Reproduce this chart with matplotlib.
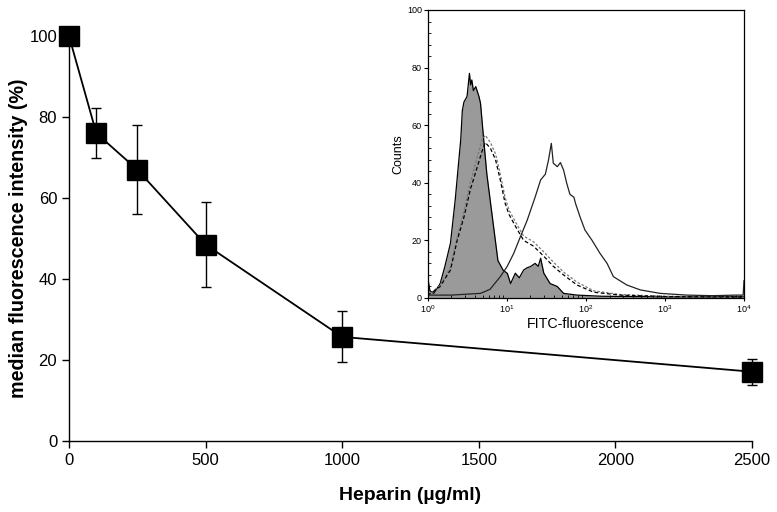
import numpy as np
import matplotlib
matplotlib.use("Agg")
import matplotlib.pyplot as plt

plt.rcParams['font.family'] = ['Liberation Sans', 'DejaVu Sans']
plt.rcParams['mathtext.fontset'] = 'custom'
plt.rcParams['mathtext.rm'] = 'Liberation Sans'
plt.rcParams['mathtext.it'] = 'Liberation Sans'

# ---- main chart data ----
heparin = [0, 100, 250, 500, 1000, 2500]
mfi = [100, 76, 67, 48.5, 25.7, 17.1]
mfi_err = [0, 6.1, 10.9, 10.6, 6.3, 3.2]
x_ticks = [0, 500, 1000, 1500, 2000, 2500]
y_ticks = [0, 20, 40, 60, 80, 100]

# ---- inset histogram data (log10 of FITC fluorescence, counts) ----
ctrl_logx = [0.0, 0.005, 0.01, 0.03, 0.08, 0.16, 0.22, 0.29, 0.35, 0.42, 0.44, 0.46, 0.50, 0.53, 0.545,
             0.56, 0.58, 0.61, 0.65, 0.67, 0.71, 0.75, 0.82, 0.89, 0.955, 1.01, 1.05, 1.11, 1.16,
             1.215, 1.26, 1.30, 1.36, 1.40, 1.43, 1.47, 1.55, 1.64, 1.72, 1.89, 2.2, 2.6, 3.0, 3.5, 4.0]
ctrl_counts = [27, 20, 6, 2.5, 1.6, 5, 11, 19, 34, 55, 65, 68, 70, 78, 74,
               75.7, 72, 73.4, 70, 67.6, 55, 43, 28, 13, 9.7, 8.5, 5, 8.6, 7,
               9.7, 10.5, 10.9, 12, 11, 13.8, 8.6, 5, 4, 1.6, 1, 0.6, 0.5, 0.4, 0.4, 0.5]

dash_logx = [0.0, 0.04, 0.16, 0.29, 0.375, 0.46, 0.54, 0.63, 0.69, 0.73, 0.795, 0.86, 0.92,
             0.98, 1.03, 1.13, 1.215, 1.34, 1.47, 1.59, 1.72, 1.89, 2.10, 2.435, 3.0, 4.0]
dash_counts = [1, 1.6, 4, 9.7, 20, 28, 37.5, 45.6, 51, 54, 52, 48, 41,
               33, 29, 24, 20, 18, 14.5, 11, 8, 4.5, 2, 1, 0.5, 0.3]
dot_counts = [1, 1.6, 4.5, 10.5, 21, 30, 40, 49, 55, 56.5, 54, 50, 43,
              35, 30.5, 25.5, 21.5, 19.5, 16, 12.5, 9, 5.5, 2.5, 1.2, 0.6, 0.3]

hep_logx = [0.0, 0.3, 0.67, 0.79, 0.92, 1.006, 1.09, 1.17, 1.26, 1.36, 1.43, 1.49, 1.53, 1.565,
            1.59, 1.64, 1.68, 1.72, 1.76, 1.80, 1.85, 1.87, 1.93, 1.99, 2.08, 2.18, 2.27, 2.35,
            2.52, 2.69, 2.94, 3.28, 3.6, 3.9, 3.99, 4.0]
hep_counts = [1, 1, 1.6, 3, 7.4, 10.9, 15.5, 21, 27, 35, 41, 43, 48, 53.7,
              46.8, 45.6, 47, 44.4, 39.8, 36, 35, 32.9, 28, 23.6, 20, 15.5, 12, 7.4,
              4.5, 2.8, 1.6, 1, 0.8, 1, 1, 6]

fig = plt.figure(figsize=(7.77, 5.12), dpi=100)
ax = fig.add_axes([0.0888, 0.1387, 0.879, 0.791])
ax.errorbar(heparin, mfi, yerr=mfi_err, color='black', lw=1.3, elinewidth=1.0,
            capsize=3.5, capthick=1.0, marker='s', markersize=14, markerfacecolor='black',
            markeredgecolor='black', clip_on=False, zorder=3)
ax.set_xlim(0, 2500)
ax.set_ylim(0, 100)
ax.set_xticks(x_ticks)
ax.set_yticks(y_ticks)
for s in ['top', 'right']:
    ax.spines[s].set_visible(False)
ax.spines['left'].set_linewidth(1.0)
ax.spines['bottom'].set_linewidth(1.0)
ax.tick_params(direction='out', length=5, width=1.0, labelsize=12)
ax.set_xlabel('Heparin (µg/ml)', fontsize=14, fontweight='bold', labelpad=14)
ax.set_ylabel('median fluorescence intensity (%)', fontsize=14.2, fontweight='bold', labelpad=1)

# ---- inset ----
ins = fig.add_axes([0.5502, 0.418, 0.4073, 0.5625])
ins.fill_between(10 ** np.array(ctrl_logx), ctrl_counts, 0, color='#9a9a9a', lw=0)
ins.plot(10 ** np.array(ctrl_logx), ctrl_counts, color='black', lw=0.9)
ins.plot(10 ** np.array(dash_logx), dot_counts, color='#777777', lw=0.9, ls=(0, (2, 1.5)))
ins.plot(10 ** np.array(dash_logx), dash_counts, color='black', lw=0.9, ls=(0, (3, 2)))
ins.plot(10 ** np.array(hep_logx), hep_counts, color='#222222', lw=0.9)
ins.set_xscale('log')
ins.set_xlim(1, 1e4)
ins.set_ylim(0, 100)
ins.set_yticks([0, 20, 40, 60, 80, 100])
ins.set_yticks(np.arange(0, 101, 4), minor=True)
ins.tick_params(axis='y', which='major', direction='out', length=3, width=0.8, labelsize=6.5, pad=1)
ins.tick_params(axis='y', which='minor', direction='in', length=2, width=0.6)
ins.tick_params(axis='x', which='major', direction='out', length=2, width=0.8, labelsize=6.5, pad=2)
ins.tick_params(axis='x', which='minor', direction='in', length=2, width=0.6)
for s in ins.spines.values():
    s.set_linewidth(0.9)
ins.set_xlabel('FITC-fluorescence', fontsize=10.3, labelpad=1)
ins.set_ylabel('Counts', fontsize=9, labelpad=2)

fig.savefig('out.png', dpi=100)
